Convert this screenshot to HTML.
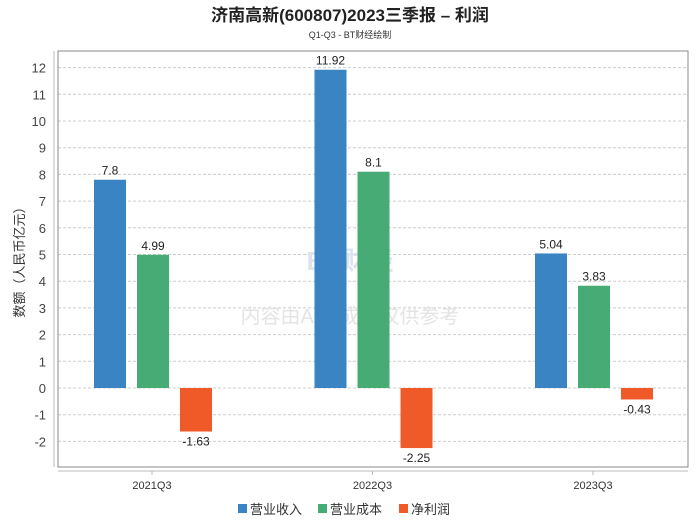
<!DOCTYPE html>
<html><head><meta charset="utf-8"><style>
body{margin:0;background:#fff;}
svg text{font-family:"Liberation Sans","Noto Sans CJK SC",sans-serif;}
</style></head><body>
<svg width="700" height="524" xmlns="http://www.w3.org/2000/svg">
<text x="350" y="21" text-anchor="middle" font-size="17" font-weight="bold" fill="#222">济南高新(600807)2023三季报 – 利润</text>
<text x="350" y="38" text-anchor="middle" font-size="9" fill="#333">Q1-Q3 - BT财经绘制</text>
<g id="grid"></g>
<rect x="58" y="51" width="630" height="416" fill="none" stroke="#888"/>
<line x1="54" y1="51" x2="54" y2="467" stroke="#bbb"/>
<line x1="58" y1="471" x2="688" y2="471" stroke="#bbb"/>
<text x="24" y="259" transform="rotate(-90 24 259)" text-anchor="middle" font-size="13" fill="#333">数额（人民币亿元）</text>
<text x="350" y="270" text-anchor="middle" font-size="26" font-weight="bold" fill="#dde3ec">BT财经</text>
<text x="350" y="323" text-anchor="middle" font-size="20" fill="#e4e4e4">内容由AI生成，仅供参考</text>
<g id="bars"></g>
<g id="legend"></g>
</svg>
<script>
const categories=["2021Q3","2022Q3","2023Q3"];
const seriesNames=["营业收入","营业成本","净利润"];
const revenue=[7.8,11.92,5.04];
const cost=[4.99,8.1,3.83];
const profit=[-1.63,-2.25,-0.43];
const yTicks=[-2,-1,0,1,2,3,4,5,6,7,8,9,10,11,12];
const colors=["#3a84c4","#46ab74","#f05a28"];
const NS="http://www.w3.org/2000/svg";
function y(v){return 388-v*26.7;}
function xc(i){return 152+i*220.5;}
function mk(tag,attrs,parent){const e=document.createElementNS(NS,tag);for(const k in attrs)e.setAttribute(k,attrs[k]);parent.appendChild(e);return e;}
const grid=document.getElementById('grid');
yTicks.forEach(t=>{
 const l=mk('line',{x1:58,x2:688,y1:y(t),y2:y(t),stroke:'#ccc','stroke-dasharray':'3,2'},grid);
 
 
 const tx=mk('text',{x:46,y:y(t)+5,'text-anchor':'end','font-size':13,fill:'#444'},grid);
 tx.textContent=t;
 
 
});
const bars=document.getElementById('bars');
const all=[revenue,cost,profit];
categories.forEach((c,i)=>{
 all.forEach((s,j)=>{
  const v=s[i];const bx=xc(i)-58+j*43;
  const r=mk('rect',{x:bx,y:Math.min(y(v),y(0)),width:32,height:Math.abs(y(v)-y(0)),fill:colors[j]},bars);
  
  
  const lt=mk('text',{x:bx+16,y:v>=0?y(v)-5:y(v)+14,'text-anchor':'middle','font-size':12,fill:'#222'},bars);
  lt.textContent=v;
  
  
 });
 const tk=mk('line',{x1:xc(i),x2:xc(i),y1:471,y2:475,stroke:'#bbb'},bars);
 
 
 const ct=mk('text',{x:xc(i),y:489,'text-anchor':'middle','font-size':11,fill:'#333'},bars);
 ct.textContent=c;
 
 
});
const lg=document.getElementById('legend');
const lx=[238,318,399];
seriesNames.forEach((n,j)=>{
 const r=mk('rect',{x:lx[j],y:504,width:9,height:9,fill:colors[j]},lg);
 
 
 const t=mk('text',{x:lx[j]+12,y:514,'font-size':13,fill:'#333'},lg);
 t.textContent=n;
 
 
});
</script>
</body></html>
